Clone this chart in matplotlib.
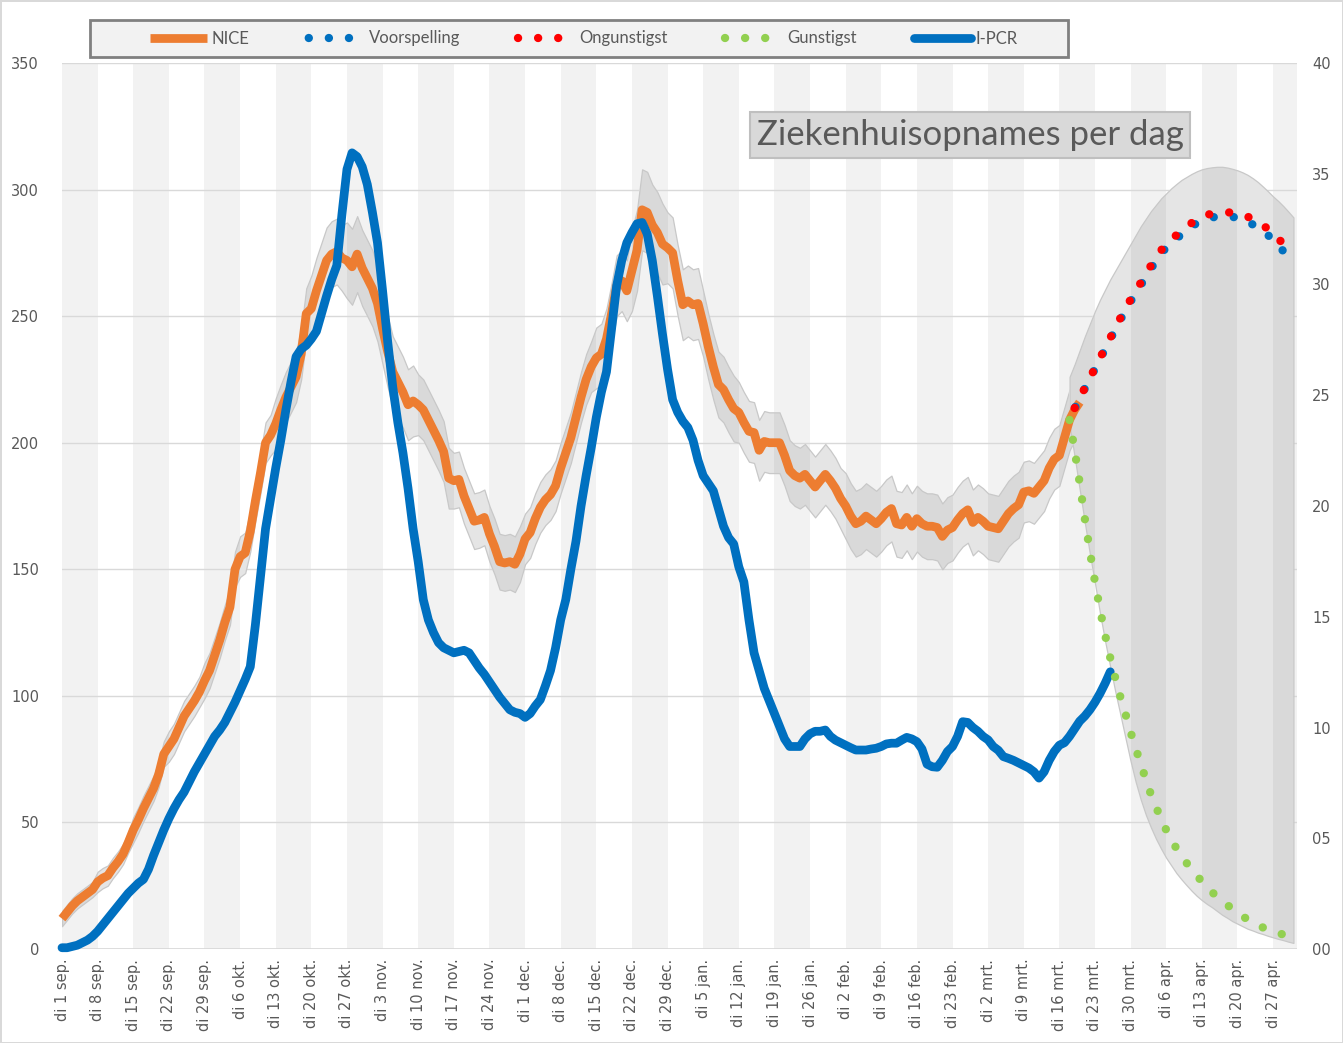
import numpy as np
import matplotlib
matplotlib.use("Agg")
import matplotlib.pyplot as plt
from matplotlib.patches import Rectangle

# ---------------- data ----------------
tick_labels = [
    "di 1 sep.", "di 8 sep.", "di 15 sep.", "di 22 sep.", "di 29 sep.",
    "di 6 okt.", "di 13 okt.", "di 20 okt.", "di 27 okt.",
    "di 3 nov.", "di 10 nov.", "di 17 nov.", "di 24 nov.",
    "di 1 dec.", "di 8 dec.", "di 15 dec.", "di 22 dec.", "di 29 dec.",
    "di 5 jan.", "di 12 jan.", "di 19 jan.", "di 26 jan.",
    "di 2 feb.", "di 9 feb.", "di 16 feb.", "di 23 feb.",
    "di 2 mrt.", "di 9 mrt.", "di 16 mrt.", "di 23 mrt.", "di 30 mrt.",
    "di 6 apr.", "di 13 apr.", "di 20 apr.", "di 27 apr.",
]

# NICE hospital admissions per day, from 1 Sep (day 0)
nice = [
    12, 14.5, 17, 19, 20.5, 22, 23.5,
    26.5, 28, 29, 32, 34.5, 37.5, 42,
    47, 51, 55.5, 59.5, 63.5, 69, 77,
    80, 83, 87.5, 92, 95, 98, 101.5,
    106, 110, 116, 122, 129, 135, 150,
    155, 156.5, 165, 177, 188, 200, 203,
    207.5, 213, 218, 222, 226, 235, 251,
    253, 260, 266, 272, 274.5, 275.5, 273,
    272, 269.5, 274.5, 269, 265, 261, 255,
    245, 236, 228, 224, 220, 215, 216.5,
    215, 213, 209, 205, 201, 196.5, 186,
    185, 185.5, 179, 174, 169, 169.5, 170.5,
    164, 159, 153, 152.5, 153, 152, 156,
    162, 164.5, 170, 174.5, 177.5, 179.5, 183,
    190, 196, 202, 210, 218, 225, 230,
    233.5, 235, 241, 251, 262, 264, 260,
    268, 276, 292, 291, 286, 283, 278.5,
    277, 275, 264, 254.5, 256, 254.5, 255,
    247, 238, 230, 223, 221, 217, 213.5,
    212, 208, 204.5, 204, 197, 200.5, 200,
    200, 200, 195, 189, 187, 186, 187.5,
    185, 182.5, 185, 187.5, 185, 182, 178,
    175, 171, 168, 169, 171, 169.5, 168,
    170, 172.5, 174, 168, 167.5, 170.5, 167,
    170, 168, 167, 167, 166.5, 163, 165.5,
    166.5, 169.5, 172, 173.5, 168.5, 170.5, 169,
    167, 166.5, 166, 169, 172, 174, 175.5,
    180.5, 181, 180, 182.5, 185, 190, 193.5,
    195, 202, 209, 213, 216,
]

# half-width of the NICE uncertainty band, per week
nice_margin_weekly = [3, 4, 5, 6, 7, 8, 10, 13, 15, 14, 12, 11, 11, 10, 10,
                      12, 16, 14, 13, 12, 12, 12, 13, 13, 13, 13, 13, 12, 12]

# I-PCR, from 1 Sep (day 0)
ipcr = [
    0.5, 0.5, 1, 1.5, 2.5, 3.5, 5,
    7, 9.5, 12, 14.5, 17, 19.5, 22,
    24, 26, 27.5, 31.5, 37, 42, 47,
    51.5, 55.5, 59, 62, 66, 70, 73.5,
    77, 80.5, 84, 86.5, 89.5, 93.5, 97.5,
    102, 106.5, 111.5, 128, 147, 166, 178,
    190, 201, 213, 224, 234, 237, 238.5,
    241, 244, 251, 258, 264.5, 270, 290,
    308, 314.5, 313, 309, 302, 291, 279,
    260, 240, 222, 208, 196, 182, 166,
    153, 138, 130, 125, 121, 119, 118,
    117, 117.5, 118, 117, 114, 111, 108.5,
    105.5, 102.5, 99.5, 97, 94.5, 93.5, 93,
    91.5, 93, 96, 98.5, 104, 110, 119,
    130, 138, 150, 161, 175, 187, 198,
    210, 220, 228, 245, 262, 272, 279,
    283, 286.5, 287, 282.5, 272, 258, 243,
    229, 217, 212, 208.5, 206, 201, 193,
    187, 184, 181, 174, 167, 162.5, 160,
    151, 145, 130, 117, 110, 103, 98,
    93, 88, 83, 80, 80, 80, 83,
    85, 86, 86, 86.5, 84, 82.5, 81.5,
    80.5, 79.5, 78.6, 78.6, 78.6, 79, 79.3,
    80, 81, 81.3, 81.3, 82.5, 83.6, 83,
    81.9, 79, 73, 72, 71.8, 74.5, 78,
    80, 84, 89.8, 89.5, 87.5, 86, 84,
    82.6, 80, 78.5, 76, 75.3, 74.5, 73.5,
    72.5, 71.5, 70, 67.5, 70, 74.5, 78,
    80.5, 81.5, 84, 87, 90, 92, 94.5,
    97.5, 101, 105, 109.5,
]

# forecasts (first day given as day offset from 1 Sep)
forecast_first_day = 199
voorspelling = [213.5, 217.5, 221.4, 225.3, 229.2, 233.1, 237, 240.9, 244.8, 248.6,
                252.3, 255.8, 259.1, 262.3, 265.5, 268.8, 271.8, 274.7, 277.1, 279,
                280.7, 282.2, 283.8, 285.3, 286.8, 287.8, 288.5, 289, 289.3, 289.4,
                289.4, 289.2, 288.9, 288.3, 287.3, 286.2, 285, 283.5, 282, 280.1,
                278, 275.7, 273.2]
ongunstigst = [213.7, 217.7, 221.6, 225.6, 229.5, 233.5, 237.5, 241.4, 245.4, 249.3,
               253, 256.6, 260, 263.2, 266.5, 270, 273, 276, 278.5, 280.3,
               282, 283.5, 285.2, 286.8, 288.4, 289.3, 290, 290.5, 290.8, 291,
               291, 290.9, 290.7, 290.2, 289.3, 288.3, 287.2, 285.8, 284.5, 282.7,
               280.7, 278.5, 276]
gunstigst_first_day = 198
gunstigst = [209, 197, 184, 170, 157, 145, 134, 124, 115, 107, 99.5, 92.8, 85.7, 79.3,
             73, 67, 61, 56, 51.5, 47, 43, 39.8, 36.8, 34, 31.3, 29, 26.7, 24.5,
             22.5, 20.6, 19, 17.4, 15.8, 14.3, 12.9, 11.7, 10.5, 9.4, 8.5, 7.7, 7,
             6.3, 5.7, 5.2]

band_first_day = 198
band_hi = [226, 231, 236.5, 242, 247, 252, 256.5, 260.5, 264.5, 268, 271.5, 275, 278.5,
           282, 285.5, 288.5, 291.5, 294, 296.5, 298.5, 300.5, 302.2, 303.8, 305,
           306.2, 307.2, 308, 308.5, 308.8, 309, 309, 308.7, 308.2, 307.6, 306.8,
           305.8, 304.5, 303, 301.2, 299.3, 297.3, 295.5, 293.5, 291.3, 289]
band_lo = [207, 194.5, 181.5, 168.5, 156, 144.5, 132.5, 121.5, 111.5, 101.6, 92.5, 83.3,
           74.2, 66, 59, 53, 48, 43.5, 39.6, 36, 33, 30, 27.5, 25.2, 23, 21, 19.3,
           17.8, 16.5, 15, 13.5, 12.3, 11, 10, 9, 8, 7.3, 6.5, 5.9, 5.2, 4.6, 4,
           3.5, 2.9, 2.4]

left_ticks = [0, 50, 100, 150, 200, 250, 300, 350]
right_ticks = [0, 5, 10, 15, 20, 25, 30, 35, 40]

# ---------------- figure ----------------
W, H = 1343, 1043
fig = plt.figure(figsize=(W / 100, H / 100), dpi=100)
fig.patch.set_facecolor("white")
fig.patch.set_edgecolor("#d9d9d9")
fig.patch.set_linewidth(2)

ax = fig.add_axes([62 / W, 1 - 949 / H, (1297 - 62) / W, (949 - 63) / H])
ax.set_xlim(0, 242.7)
ax.set_ylim(0, 350)
for s in ax.spines.values():
    s.set_visible(False)

n_weeks = len(tick_labels)
GRAY_WEEK = "#f2f2f2"
for k in range(0, n_weeks, 2):
    ax.axvspan(7 * k, 7 * k + 7, facecolor=GRAY_WEEK, edgecolor="none", zorder=0.1)

for v in left_ticks[1:]:
    ax.axhline(v, color="#d9d9d9", lw=1.0, zorder=0.5)
ax.axhline(0, color="#d9d9d9", lw=2.0, zorder=0.5)


def shaded_band(x, lo, hi, z):
    under = ax.fill_between(x, lo, hi, facecolor="white", edgecolor="none", zorder=z)
    path = under.get_paths()[0]
    for k in range(0, n_weeks, 2):
        r = ax.axvspan(7 * k, 7 * k + 7, facecolor=GRAY_WEEK, edgecolor="none",
                       zorder=z + 0.01)
        r.set_clip_path(path, ax.transData)
    ax.fill_between(x, lo, hi, facecolor=(0, 0, 0, 0.10), edgecolor="#c8c8c8",
                    lw=0.9, zorder=z + 0.02)


nice_arr = np.array(nice, dtype=float)
days_nice = np.arange(len(nice))
margin = np.repeat(nice_margin_weekly, 7)[: len(nice)]
shaded_band(days_nice, nice_arr - margin, nice_arr + margin, 1.0)

days_band = band_first_day + np.arange(len(band_hi))
shaded_band(days_band, band_lo, band_hi, 1.1)

ORANGE = "#ED7D31"
BLUE = "#0070C0"
RED = "#FF0000"
GREEN = "#92D050"

l_nice, = ax.plot(days_nice, nice_arr, color=ORANGE, lw=6.3, solid_capstyle="butt",
                  solid_joinstyle="round", zorder=3, clip_on=False)
days_pcr = np.arange(len(ipcr))
l_pcr, = ax.plot(days_pcr, ipcr, color=BLUE, lw=6.3, solid_capstyle="round",
                 solid_joinstyle="round", zorder=3.2, clip_on=False)

DOT_LW = 6.0
days_fc = forecast_first_day + np.arange(len(voorspelling))
l_voor, = ax.plot(days_fc, voorspelling, color=BLUE, lw=DOT_LW,
                  linestyle=(2.2, (0.01, 2.4)), dash_capstyle="round", zorder=4)
l_ong, = ax.plot(days_fc, ongunstigst, color=RED, lw=DOT_LW,
                 linestyle=(0, (0.01, 2.4)), dash_capstyle="round", zorder=4.1)
days_gun = gunstigst_first_day + np.arange(len(gunstigst))
l_gun, = ax.plot(days_gun, gunstigst, color=GREEN, lw=DOT_LW,
                 linestyle=(0, (0.01, 2.4)), dash_capstyle="round", zorder=4.2)

# ticks
ax.set_xticks([7 * k for k in range(n_weeks)])
ax.set_xticklabels(tick_labels, rotation=90, fontsize=10.5, color="#595959",
                   family="DejaVu Sans")
ax.tick_params(axis="x", length=0, pad=7)
ax.set_yticks(left_ticks)
ax.set_yticklabels([str(v) for v in left_ticks], fontsize=10.5, color="#595959",
                   family="DejaVu Sans")
ax.tick_params(axis="y", length=0, pad=16.5)

ax2 = ax.twinx()
ax2.set_ylim(0, 40)
ax2.set_yticks(right_ticks)
ax2.set_yticklabels([f"{v:02d}" for v in right_ticks], fontsize=10.5, color="#595959",
                    family="DejaVu Sans")
ax2.tick_params(axis="y", length=0, pad=11)
for s in ax2.spines.values():
    s.set_visible(False)

# title box
fig.text(970 / W, 1 - 135 / H, "Ziekenhuisopnames per dag", ha="center", va="center",
         fontsize=25, color="#595959", family="Lato",
         bbox=dict(boxstyle="square,pad=0.2", facecolor="#d9d9d9",
                   edgecolor="#bfbfbf", lw=1.5), zorder=10)

# legend with separately drawn frame
fig.add_artist(Rectangle((90 / W, 1 - 57 / H), 978 / W, 37 / H, transform=fig.transFigure,
                         facecolor="#f2f2f2", edgecolor="#808080", lw=2, zorder=1))
leg = fig.legend(handles=[l_nice, l_voor, l_ong, l_gun, l_pcr],
                 labels=["NICE", "Voorspelling", "Ongunstigst", "Gunstigst", "I-PCR"],
                 ncol=5, mode="expand", loc="center",
                 bbox_to_anchor=(150 / W, 1 - 57 / H, (1018 - 150) / W, 37 / H),
                 prop={"family": "Lato", "size": 12}, labelcolor="#595959",
                 handlelength=3.4, handletextpad=0.3, borderpad=0,
                 borderaxespad=0, frameon=False)
leg.set_zorder(2)

fig.savefig("out.png", dpi=100, facecolor="white")
